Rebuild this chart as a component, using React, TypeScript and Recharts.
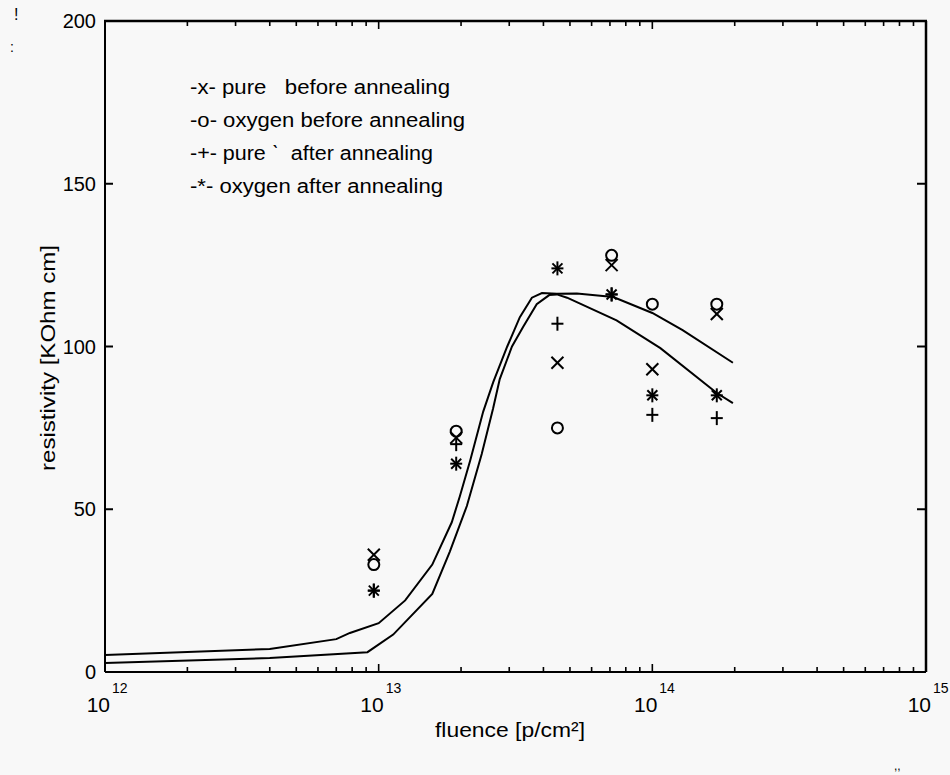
import React from 'react';
import { ScatterChart, Scatter, XAxis, YAxis } from 'recharts';

// measured fluence columns [p/cm^2]
const fluence = [9.6e12, 1.92e13, 4.5e13, 7.1e13, 1e14, 1.72e14];

// resistivity [KOhm cm]
const pureBefore = [36, 72, 95, 125, 93, 110];
const oxygenBefore = [33, 74, 75, 128, 113, 113];
const pureAfter = [25, 70, 107, 116, 79, 78];
const oxygenAfter = [25, 64, 124, 116, 85, 85];

// fitted curves
const fitAFluence = [1e12, 4e12, 7e12, 7.85e12, 1e13, 1.25e13, 1.57e13, 1.85e13, 1.98e13, 2.16e13, 2.41e13, 2.62e13, 2.95e13, 3.28e13, 3.63e13, 3.95e13, 4.48e13, 5.3e13, 7.2e13, 1e14, 1.29e14, 1.97e14];
const fitAValues = [5.2, 7.1, 10.1, 12, 15, 22, 33, 46, 54, 65, 80, 89, 100, 109, 115, 116.4, 116.2, 116.3, 115.2, 110.3, 105, 95];
const fitBFluence = [1e12, 4e12, 9.1e12, 1.13e13, 1.57e13, 1.82e13, 2.1e13, 2.38e13, 2.62e13, 2.77e13, 3.07e13, 3.37e13, 3.78e13, 4.2e13, 4.48e13, 4.88e13, 7.4e13, 1.07e14, 1.72e14, 1.97e14];
const fitBValues = [2.8, 4.3, 6.1, 11.5, 24, 37, 51, 67, 81, 90, 100, 106, 113, 115.8, 116, 115, 108, 99.5, 85.7, 82.6];

const xDecades = [1e12, 1e13, 1e14, 1e15];
const xMinorMultiples = [2, 3, 4, 5, 6, 7, 8, 9];
const yTicks = [0, 50, 100, 150, 200];

const legendLines = [
  '-x- pure   before annealing',
  '-o- oxygen before annealing',
  '-+- pure \u02cb  after annealing',
  '-*- oxygen after annealing',
];
const legendWidths = [260, 275, 243, 253];

const xTicks = [
  ...xDecades,
  ...xDecades.slice(0, -1).flatMap((d) => xMinorMultiples.map((m) => m * d)),
].sort((a, b) => a - b);

const toPoints = (xs: number[], ys: number[]) => xs.map((x, i) => ({ x, y: ys[i] }));

const FONT = '"Liberation Sans", Arial, Helvetica, sans-serif';
const INK = '#000';
const MARGIN = 8;
const W = 950;
const H = 775;
const M = { top: 21, right: 24, bottom: 0, left: 0 };
const X_AXIS_H = 103;
const Y_AXIS_W = 105;
const PLOT_X = M.left + Y_AXIS_W;
const PLOT_Y = M.top;
const PLOT_W = W - M.left - M.right - Y_AXIS_W;
const PLOT_H = H - M.top - M.bottom - X_AXIS_H;

const isDecade = (v: number) => Math.abs(Math.log10(v) - Math.round(Math.log10(v))) < 1e-6;

// bottom labels plus inward ticks on bottom and top edges
const XTick = (props: any) => {
  const { x, y, payload } = props;
  const axisY = y - MARGIN;
  const topY = axisY - PLOT_H;
  const major = isDecade(payload.value);
  const len = major ? 8 : 5;
  const exp = Math.round(Math.log10(payload.value));
  return (
    <g>
      <path d={`M${x},${axisY}v${-len}M${x},${topY}v${len}`} stroke={INK} strokeWidth={1.6} fill="none" />
      {major && (
        <text fontFamily={FONT} fill={INK}>
          <tspan x={x + 5} y={axisY + 40} fontSize={21} textAnchor="end">10</tspan>
          <tspan x={x + 7} y={axisY + 21} fontSize={14}>{exp}</tspan>
        </text>
      )}
    </g>
  );
};

// left labels plus inward ticks on left and right edges
const YTick = (props: any) => {
  const { x, y, payload } = props;
  const axisX = x + MARGIN;
  const rightX = axisX + PLOT_W;
  return (
    <g>
      <path d={`M${axisX},${y}h8M${rightX},${y}h-9`} stroke={INK} strokeWidth={1.8} fill="none" />
      <text x={x - 1} y={y + 7} textAnchor="end" fontSize={20} fontFamily={FONT} fill={INK}>
        {payload.value}
      </text>
    </g>
  );
};

const mk = { stroke: INK, strokeWidth: 2, fill: 'none' };

const CrossMark = ({ cx, cy }: any) => (
  <g {...mk}>
    <line x1={cx - 6} y1={cy - 6} x2={cx + 6} y2={cy + 6} />
    <line x1={cx - 6} y1={cy + 6} x2={cx + 6} y2={cy - 6} />
  </g>
);
const CircleMark = ({ cx, cy }: any) => <circle cx={cx} cy={cy} r={5.5} {...mk} />;
const PlusMark = ({ cx, cy }: any) => (
  <g {...mk}>
    <line x1={cx - 6} y1={cy} x2={cx + 6} y2={cy} />
    <line x1={cx} y1={cy - 7} x2={cx} y2={cy + 7} />
  </g>
);
const StarMark = ({ cx, cy }: any) => (
  <g {...mk}>
    <line x1={cx - 6} y1={cy} x2={cx + 6} y2={cy} />
    <line x1={cx} y1={cy - 7} x2={cx} y2={cy + 7} />
    <line x1={cx - 5} y1={cy - 5} x2={cx + 5} y2={cy + 5} />
    <line x1={cx - 5} y1={cy + 5} x2={cx + 5} y2={cy - 5} />
  </g>
);
const NoMark = () => <g />;

export default function App() {
  return (
    <div style={{ position: 'absolute', left: 0, top: 0, width: W, height: H, background: '#f8f8f8' }}>
      <ScatterChart width={W} height={H} margin={M}>
        <XAxis
          type="number"
          dataKey="x"
          scale="log"
          domain={[1e12, 1e15]}
          ticks={xTicks}
          interval={0}
          allowDataOverflow
          height={X_AXIS_H}
          tickSize={0}
          tickMargin={MARGIN}
          tick={<XTick />}
          axisLine={{ stroke: INK, strokeWidth: 2 }}
        />
        <YAxis
          type="number"
          dataKey="y"
          domain={[0, 200]}
          ticks={yTicks}
          interval={0}
          allowDataOverflow
          width={Y_AXIS_W}
          tickSize={0}
          tickMargin={MARGIN}
          tick={<YTick />}
          axisLine={{ stroke: INK, strokeWidth: 2 }}
        />

        <Scatter data={toPoints(fitAFluence, fitAValues)} line={{ stroke: INK, strokeWidth: 2 }} lineType="joint" shape={<NoMark />} isAnimationActive={false} />
        <Scatter data={toPoints(fitBFluence, fitBValues)} line={{ stroke: INK, strokeWidth: 2 }} lineType="joint" shape={<NoMark />} isAnimationActive={false} />

        <Scatter name="pure before annealing" data={toPoints(fluence, pureBefore)} shape={<CrossMark />} isAnimationActive={false} />
        <Scatter name="oxygen before annealing" data={toPoints(fluence, oxygenBefore)} shape={<CircleMark />} isAnimationActive={false} />
        <Scatter name="pure after annealing" data={toPoints(fluence, pureAfter)} shape={<PlusMark />} isAnimationActive={false} />
        <Scatter name="oxygen after annealing" data={toPoints(fluence, oxygenAfter)} shape={<StarMark />} isAnimationActive={false} />
      </ScatterChart>

      <svg width={W} height={H} style={{ position: 'absolute', left: 0, top: 0, pointerEvents: 'none' }}>
        {/* plot frame: top and right edges */}
        <line x1={PLOT_X - 1} y1={PLOT_Y} x2={PLOT_X + PLOT_W + 1} y2={PLOT_Y} stroke={INK} strokeWidth={2.5} />
        <line x1={PLOT_X + PLOT_W} y1={PLOT_Y} x2={PLOT_X + PLOT_W} y2={PLOT_Y + PLOT_H} stroke={INK} strokeWidth={2.5} />
        <g fontFamily={FONT} fill={INK} fontSize={20}>
          {legendLines.map((t, i) => (
            <text key={i} x={190} y={94 + i * 33} xmlSpace="preserve" textLength={legendWidths[i]} lengthAdjust="spacingAndGlyphs">
              {t}
            </text>
          ))}
        </g>
        <text x={510} y={737} textAnchor="middle" fontFamily={FONT} fontSize={20} fill={INK} textLength={150} lengthAdjust="spacingAndGlyphs">
          fluence [p/cm²]
        </text>
        <text
          x={0}
          y={0}
          transform="translate(55 358) rotate(-90)"
          textAnchor="middle"
          fontFamily={FONT}
          fontSize={20}
          fill={INK}
          textLength={226}
          lengthAdjust="spacingAndGlyphs"
        >
          resistivity [KOhm cm]
        </text>
        <text x={14} y={20} fontFamily={FONT} fontSize={16} fill={INK}>!</text>
        <text x={10} y={52} fontFamily={FONT} fontSize={14} fill={INK}>:</text>
        <text x={894} y={770} fontFamily={FONT} fontSize={12} fill={INK}>,,</text>
      </svg>
    </div>
  );
}
